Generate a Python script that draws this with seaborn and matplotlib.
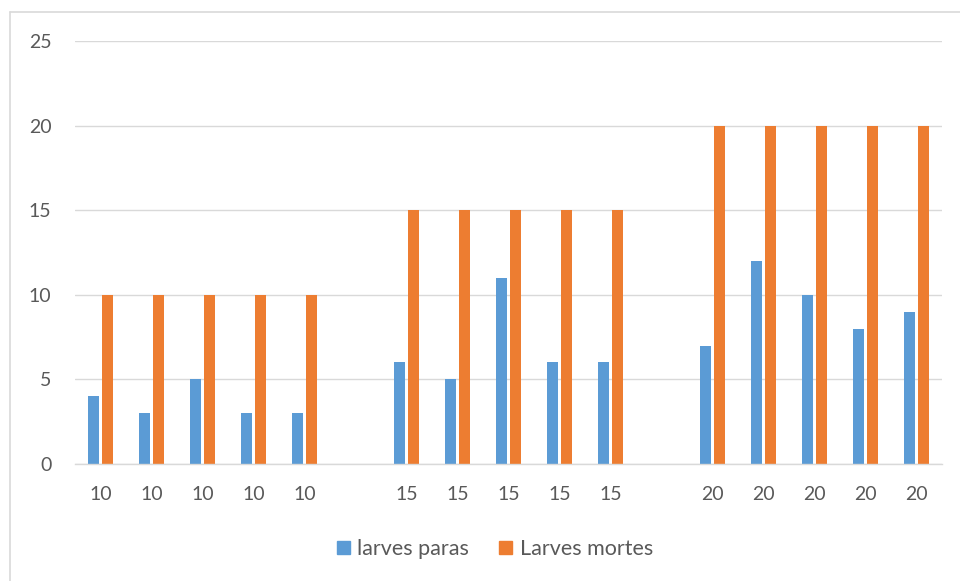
import numpy as np
import pandas as pd
import matplotlib
matplotlib.use("Agg")
import matplotlib.pyplot as plt
from matplotlib.lines import Line2D
import seaborn as sns

# ---- data ----
tick_labels = ["10", "10", "10", "10", "10", "", "15", "15", "15", "15", "15", "", "20", "20", "20", "20", "20"]
larves_paras = [4, 3, 5, 3, 3, np.nan, 6, 5, 11, 6, 6, np.nan, 7, 12, 10, 8, 9]
larves_mortes = [10, 10, 10, 10, 10, np.nan, 15, 15, 15, 15, 15, np.nan, 20, 20, 20, 20, 20]
series_names = ["larves paras", "Larves mortes"]
y_ticks = [0, 5, 10, 15, 20, 25]

colors = ["#5B9BD5", "#ED7D31"]

n = len(tick_labels)
pos = list(range(n))
df = pd.DataFrame({
    "pos": pos * 2,
    "value": larves_paras + larves_mortes,
    "serie": [series_names[0]] * n + [series_names[1]] * n,
})

sns.set_theme(style="white")
plt.rcParams["font.family"] = ["Lato", "DejaVu Sans"]

fig = plt.figure(figsize=(9.6, 5.81), dpi=100)
ax = fig.add_axes([75 / 960, 1 - 464 / 581, (942 - 75) / 960, (464 - 41) / 581])

sns.barplot(data=df, x="pos", y="value", hue="serie", order=pos,
            hue_order=series_names, palette=colors, width=0.52, gap=0.18,
            saturation=1, linewidth=0, ax=ax, legend=True)

ax.set_xlim(-0.5, n - 0.5)
ax.set_ylim(0, 25)
ax.set_yticks(y_ticks)
ax.set_yticklabels([str(v) for v in y_ticks])
ax.set_xticks(pos)
ax.set_xticklabels(tick_labels)
ax.set_xlabel("")
ax.set_ylabel("")
ax.yaxis.grid(True, color="#D9D9D9", linewidth=1.0)
ax.set_axisbelow(True)
for s in ["top", "right", "left"]:
    ax.spines[s].set_visible(False)
ax.spines["bottom"].set_color("#D9D9D9")
ax.spines["bottom"].set_linewidth(1.0)
ax.tick_params(axis="both", length=0, labelsize=14, labelcolor="#595959")
ax.tick_params(axis="y", pad=17)
ax.tick_params(axis="x", pad=16)

ax.get_legend().remove()
handles = [plt.Rectangle((0, 0), 1, 1, color=c) for c in colors]
fig.legend(handles, series_names, loc="center", bbox_to_anchor=(0.5156, 1 - 549 / 581),
           ncol=2, frameon=False, fontsize=15.5, labelcolor="#595959",
           handlelength=0.6, handleheight=0.6, handletextpad=0.35, columnspacing=1.4)

# chart border (top and left visible)
fig.add_artist(Line2D([10 / 960, 1.0], [1 - 12 / 581, 1 - 12 / 581], color="#D9D9D9", linewidth=1.2))
fig.add_artist(Line2D([10 / 960, 10 / 960], [0.0, 1 - 12 / 581], color="#D9D9D9", linewidth=1.2))

fig.savefig("out.png", dpi=100)
